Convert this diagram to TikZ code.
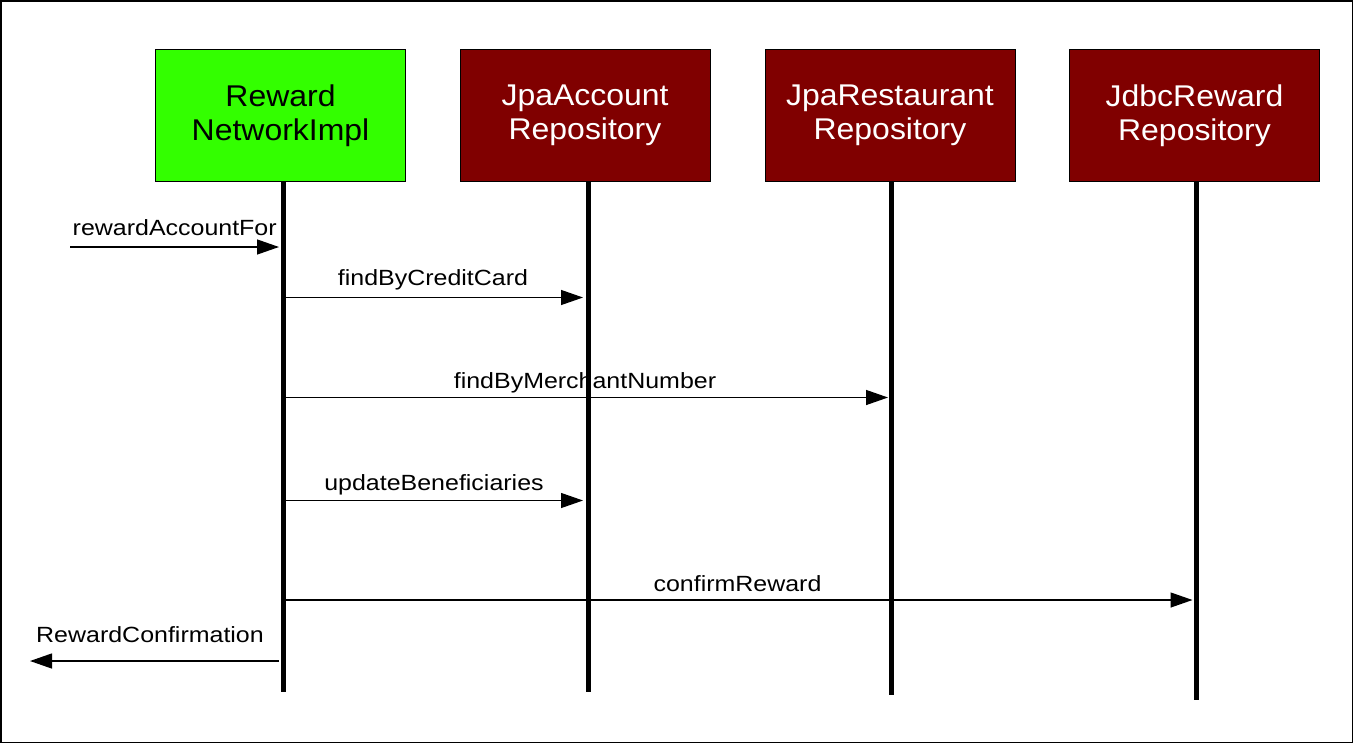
\documentclass[tikz,border=0pt]{standalone}
\usepackage{fontspec}
\setmainfont{Liberation Sans}
\newfontfamily\boxfont[FakeStretch=1.065]{Liberation Sans}
\newfontfamily\lblfont[FakeStretch=1.135]{Liberation Sans}
\usetikzlibrary{arrows.meta,calc}
\definecolor{boxred}{RGB}{128,0,0}
\definecolor{boxgreen}{RGB}{51,255,0}
\tikzset{
  objbox/.style={draw=black, line width=1pt, minimum width=250pt, minimum height=132pt,
    inner sep=0pt, align=center, font=\boxfont\fontsize{30}{34}\selectfont},
  redbox/.style={objbox, fill=boxred, text=white},
  greenbox/.style={objbox, fill=boxgreen, text=black},
  lifeline/.style={line width=5pt},
  msg/.style={line width=1.3pt, -{Triangle[length=22pt,width=15pt]}},
  lbl/.style={anchor=base, inner sep=0pt, font=\lblfont\fontsize{22}{26}\selectfont},
}
\begin{document}
\begin{tikzpicture}[x=1pt,y=-1pt]
\useasboundingbox (0,0) rectangle (1354,744);
\draw[line width=1.5pt] (0.75,0.75) rectangle (1352.5,742.5);

\node[greenbox] (b1) at (280.5,115.5) {Reward\\NetworkImpl};
\node[redbox] (b2) at (585,115.5) {JpaAccount\\Repository};
\node[redbox] (b3) at (890,115.5) {JpaRestaurant\\Repository};
\node[redbox] (b4) at (1194.5,115.5) {JdbcReward\\Repository};

\coordinate (l1) at (283,691.5);
\coordinate (l2) at (588,691.5);
\coordinate (l3) at (891,695);
\coordinate (l4) at (1196.5,700);

\draw[lifeline] (l1 |- b1.south) -- (l1);
\draw[lifeline] (l2 |- b2.south) -- (l2);
\draw[lifeline] (l3 |- b3.south) -- (l3);
\draw[lifeline] (l4 |- b4.south) -- (l4);

\coordinate (in1) at (70,247);
\coordinate (out1) at (30,661);

% rewardAccountFor
\draw[msg] (in1) -- ([xshift=-4pt]l1 |- in1);
\node[lbl] (t1) at (174.7,235) {rewardAccountFor};

% findByCreditCard
\draw[msg] ([xshift=2.5pt]l1 |- 0,297.5) -- ([xshift=-5pt]l2 |- 0,297.5);
\node[lbl] (t2) at (433,285) {findByCreditCard};

% findByMerchantNumber
\draw[msg] ([xshift=2.5pt]l1 |- 0,397.5) -- ([xshift=-3pt]l3 |- 0,397.5);
\node[lbl] (t3) at (585,388) {findByMerchantNumber};

% updateBeneficiaries
\draw[msg] ([xshift=2.5pt]l1 |- 0,500.5) -- ([xshift=-5pt]l2 |- 0,500.5);
\node[lbl] (t4) at (434,490.7) {updateBeneficiaries};

% confirmReward
\draw[msg] ([xshift=2.5pt]l1 |- 0,600) -- ([xshift=-4pt]l4 |- 0,600);
\node[lbl] (t5) at (737.5,591.5) {confirmReward};

% RewardConfirmation
\draw[msg] ([xshift=-4pt]l1 |- out1) -- (out1);
\node[lbl] (t6) at (150,642.7) {RewardConfirmation};
\end{tikzpicture}
\end{document}
